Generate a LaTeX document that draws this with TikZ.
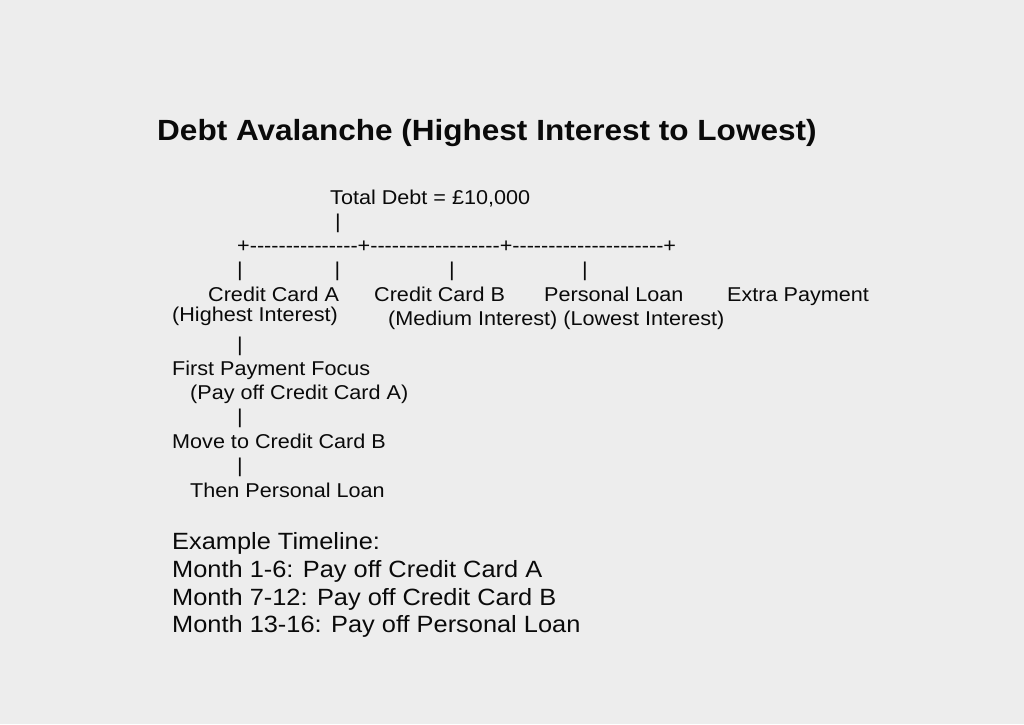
\documentclass[tikz,border=0pt]{standalone}
\usepackage{fontspec}
\setmainfont{Liberation Sans}[FakeStretch=1.08,Ligatures=TeXOff]
\begin{document}
\begin{tikzpicture}[x=1pt,y=-1pt]
\definecolor{paper}{HTML}{EDEDED}
\definecolor{ink}{HTML}{0A0A0A}
\tikzset{
  txt/.style={anchor=base west, inner sep=0pt, text=ink, font=\fontsize{20}{24}\selectfont},
  bar/.style={anchor=base, inner sep=0pt, text=ink, font=\fontsize{20}{24}\selectfont},
  big/.style={txt, font=\fontsize{23.5}{28}\selectfont},
  ttl/.style={txt, font=\fontsize{29.2}{34}\selectfont\bfseries}
}
\fill[paper] (0,0) rectangle (1024,724);
\useasboundingbox (0,0) rectangle (1024,724);

\node[ttl] (title) at (157,140) {Debt Avalanche (Highest Interest to Lowest)};

\node[txt] (total) at (330,204) {Total Debt = £10,000};
\node[bar] (p0) at (338,228) {|};
\node[txt] (branch) at (237,252) {+---------------+------------------+---------------------+};
\node[bar] (p1) at (240,276) {|};
\node[bar] (p2) at (337.5,276) {|};
\node[bar] (p3) at (452,276) {|};
\node[bar] (p4) at (585,276) {|};

\node[txt] (cca) at (208,301) {Credit Card A};
\node[txt] (ccb) at (374,301) {Credit Card B};
\node[txt] (pl) at (544,301) {Personal Loan};
\node[txt] (extra) at (727,301) {Extra Payment};
\node[txt] (high) at (172,321) {(Highest Interest)};
\node[txt] (medlow) at (388,325) {(Medium Interest) (Lowest Interest)};

\node[bar] (p5) at (240,351) {|};
\node[txt] (first) at (172,375) {First Payment Focus};
\node[txt] (payA) at (190,399) {(Pay off Credit Card A)};
\node[bar] (p6) at (240,423) {|};
\node[txt] (moveB) at (172,448) {Move to Credit Card B};
\node[bar] (p7) at (240,472) {|};
\node[txt] (thenPL) at (190,497) {Then Personal Loan};

\node[big] (ex) at (172,549) {Example Timeline:};
\node[big] (m1) at (172,577) {Month 1-6: Pay off Credit Card A};
\node[big] (m2) at (172,605) {Month 7-12: Pay off Credit Card B};
\node[big] (m3) at (172,632) {Month 13-16: Pay off Personal Loan};
\end{tikzpicture}
\end{document}
